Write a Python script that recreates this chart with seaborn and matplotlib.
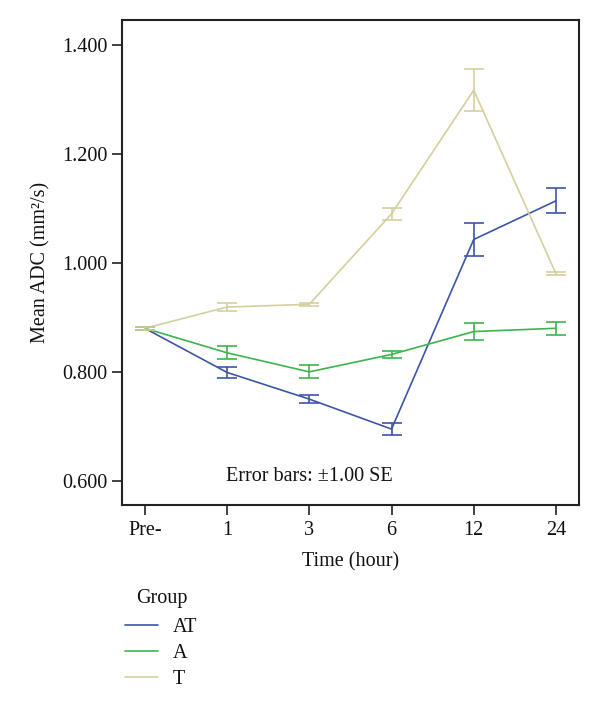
import numpy as np
import pandas as pd
import matplotlib
matplotlib.use("Agg")
import matplotlib.pyplot as plt
import seaborn as sns
from matplotlib.lines import Line2D

# ---- data ----
time_labels = ["Pre-", "1", "3", "6", "12", "24"]
groups = ["AT", "A", "T"]
at_mean = [0.880, 0.799, 0.750, 0.695, 1.043, 1.114]
at_se = [0.003, 0.010, 0.008, 0.011, 0.031, 0.023]
a_mean = [0.880, 0.835, 0.800, 0.832, 0.874, 0.880]
a_se = [0.003, 0.012, 0.012, 0.007, 0.016, 0.012]
t_mean = [0.880, 0.919, 0.924, 1.090, 1.317, 0.980]
t_se = [0.003, 0.007, 0.003, 0.011, 0.038, 0.003]
y_ticks = [0.600, 0.800, 1.000, 1.200, 1.400]

colors = {"AT": "#3d55a5", "A": "#3cb54a", "T": "#d5cf9e"}

means = {"AT": at_mean, "A": a_mean, "T": t_mean}
ses = {"AT": at_se, "A": a_se, "T": t_se}

rows = []
for g in groups:
    for i, lab in enumerate(time_labels):
        rows.append({"Time": i, "Mean": means[g][i], "SE": ses[g][i], "Group": g})
df = pd.DataFrame(rows)

sns.set_theme(style="white")
plt.rcParams["font.family"] = ["Liberation Serif", "DejaVu Serif"]

FS = 14.5

fig = plt.figure(figsize=(6.0, 7.11), dpi=100)
ax = fig.add_axes([0.203, 0.290, 0.762, 0.682])

sns.lineplot(data=df, x="Time", y="Mean", hue="Group", hue_order=groups,
             palette=colors, errorbar=None, legend=False, ax=ax, linewidth=1.2)
for g in groups:
    sub = df[df["Group"] == g]
    ax.errorbar(sub["Time"], sub["Mean"], yerr=sub["SE"], fmt="none",
                ecolor=colors[g], elinewidth=1.2, capsize=7.5, capthick=1.2)

ax.set_xlim(-0.28, 5.28)
ax.set_ylim(0.556, 1.446)
ax.set_xticks(range(len(time_labels)))
ax.set_xticklabels(time_labels)
ax.set_yticks(y_ticks)
ax.set_yticklabels([f"{v:.3f}" for v in y_ticks])
ax.tick_params(axis="both", which="major", direction="out", length=7.5, width=1.3,
               color="#333333", labelsize=FS, labelcolor="#111111", pad=3,
               bottom=True, left=True)
ax.tick_params(axis="x", pad=4)
for s in ax.spines.values():
    s.set_color("#222222")
    s.set_linewidth(1.5)
    s.set_visible(True)

ax.set_xlabel("Time (hour)", fontsize=FS, color="#111111", labelpad=9)
ax.set_ylabel("Mean ADC (mm²/s)", fontsize=FS, color="#111111", labelpad=8)

ax.text(0.41, 0.058, "Error bars: ±1.00 SE", transform=ax.transAxes,
        ha="center", va="center", fontsize=FS, color="#111111")

handles = [Line2D([0], [0], color=colors[g], lw=1.2) for g in groups]
fig.text(136 / 600, 1 - 599 / 711, "Group", ha="left", va="center",
         fontsize=FS, color="#111111")
leg = fig.legend(handles, groups, loc="upper left",
                 bbox_to_anchor=(125 / 600, 1 - 618 / 711), frameon=False,
                 fontsize=FS, borderpad=0, borderaxespad=0,
                 handlelength=1.65, handletextpad=0.7, labelspacing=0.33)
for t in leg.get_texts():
    t.set_color("#111111")

fig.savefig("out.png", dpi=100)
